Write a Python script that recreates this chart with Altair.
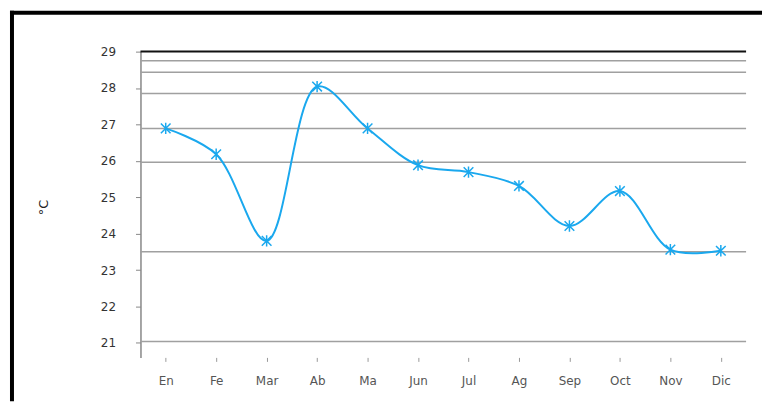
import altair as alt
import pandas as pd

months = ["En", "Fe", "Mar", "Ab", "Ma", "Jun", "Jul", "Ag", "Sep", "Oct", "Nov", "Dic"]
temps = [26.89, 26.18, 23.80, 28.04, 26.89, 25.88, 25.69, 25.31, 24.21, 25.17, 23.56, 23.53]
grid_values = [28.75, 28.43, 27.85, 26.89, 25.96, 23.50, 21.04]
y_ticks = [21, 22, 23, 24, 25, 26, 27, 28, 29]
top_line = [29]

df = pd.DataFrame({"mes": months, "t": temps})
grid_df = pd.DataFrame({"t": grid_values})
top_df = pd.DataFrame({"t": top_line})

W, H = 608, 307
FONT = "DejaVu Sans"
BLUE = "#1aa8ee"
ASTERISK = "M0,-1L0,1M-0.85,-0.85L0.85,0.85M-0.85,0.85L0.85,-0.85"

yscale = alt.Scale(domain=[20.6, 29], nice=False, zero=False)
xscale = alt.Scale(type="point", padding=0.5, domain=months)

y_axis = alt.Axis(title="°C", values=y_ticks, grid=False, domainColor="#888",
                  domainWidth=1.5, tickColor="#888", tickSize=5,
                  labelFont=FONT, labelFontSize=12, labelColor="#333",
                  labelPadding=20, titleFont=FONT, titleFontSize=13,
                  titleFontWeight="normal", titleColor="#222",
                  titleX=-90, titleY=156, titleAngle=-90)
x_axis = alt.Axis(title=None, domain=False, ticks=True, tickSize=4,
                  tickColor="#999", labelAngle=0, labelFont=FONT,
                  labelFontSize=12, labelColor="#555", labelPadding=14,
                  grid=False)

Y = alt.Y("t:Q", scale=yscale, axis=y_axis)
X = alt.X("mes:N", scale=xscale, sort=months, axis=x_axis)

grid = alt.Chart(grid_df).mark_rule(color="#a0a0a0", strokeWidth=1.5).encode(y=Y)
top = alt.Chart(top_df).mark_rule(color="#111", strokeWidth=2).encode(y=Y)

line = alt.Chart(df).mark_line(color=BLUE, strokeWidth=2, interpolate="catmull-rom").encode(
    x=X, y=Y)
pts = alt.Chart(df).mark_point(shape=ASTERISK, filled=False, color=BLUE, strokeWidth=1.5,
                               size=130, opacity=1).encode(x=X, y=Y)

frame_data = alt.Data(values=[{}])
frame_left = alt.Chart(frame_data).mark_rule(color="black", strokeWidth=4).encode(
    x=alt.value(-129), y=alt.value(-41), y2=alt.value(351))
frame_top = alt.Chart(frame_data).mark_rule(color="black", strokeWidth=4).encode(
    x=alt.value(-131), x2=alt.value(624), y=alt.value(-39))

chart = alt.layer(grid, top, line, pts, frame_left, frame_top).properties(
    width=W, height=H, padding=0, background="white"
).configure_view(strokeWidth=0, stroke="transparent")

chart.save("out.html", embed_options={"renderer": "svg", "actions": False})
